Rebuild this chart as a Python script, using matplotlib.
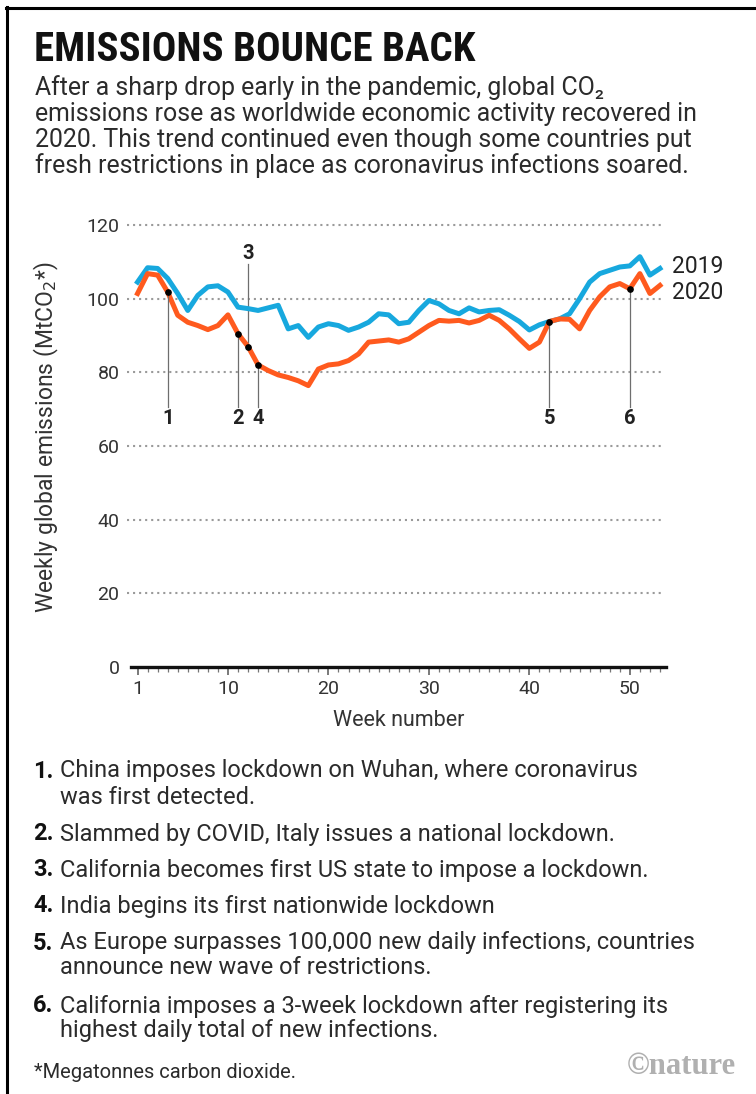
import matplotlib
matplotlib.use("Agg")
import matplotlib.pyplot as plt
import matplotlib.font_manager as fm
from matplotlib.lines import Line2D

# ---------------------------------------------------------------------------
# Data
# ---------------------------------------------------------------------------
weeks = list(range(1, 54))

emissions_2019 = [
    104.5, 108.4, 108.2, 105.5, 101.4, 96.8, 100.9, 103.2, 103.5, 101.8,
    97.7, 97.3, 96.8, 97.5, 98.2, 91.8, 92.7, 89.5, 92.3, 93.2,
    92.7, 91.4, 92.3, 93.6, 95.9, 95.6, 93.2, 93.6, 96.8, 99.5,
    98.6, 96.8, 95.9, 97.5, 96.4, 96.8, 97.0, 95.5, 93.8, 91.5,
    92.9, 93.8, 94.5, 95.9, 100.0, 104.5, 106.8, 107.7, 108.6, 108.9,
    111.4, 106.4, 108.2,
]

emissions_2020 = [
    101.4, 106.8, 106.4, 101.8, 95.5, 93.6, 92.7, 91.6, 92.7, 95.6,
    90.5, 87.0, 82.0, 80.5, 79.3, 78.6, 77.7, 76.4, 80.9, 82.0,
    82.3, 83.2, 85.0, 88.2, 88.5, 88.8, 88.2, 89.1, 90.9, 92.7,
    94.1, 93.9, 94.1, 93.4, 94.1, 95.5, 94.1, 91.8, 89.1, 86.5,
    88.2, 93.8, 94.5, 94.4, 91.8, 96.8, 100.5, 103.2, 104.1, 102.7,
    106.8, 101.4, 103.6,
]

event_weeks = [4, 11, 12, 13, 42, 50]
event_labels = ["1", "2", "3", "4", "5", "6"]
event_up = [False, False, True, False, False, False]

event_texts = [
    ["China imposes lockdown on Wuhan, where coronavirus", "was first detected."],
    ["Slammed by COVID, Italy issues a national lockdown."],
    ["California becomes first US state to impose a lockdown."],
    ["India begins its first nationwide lockdown"],
    ["As Europe surpasses 100,000 new daily infections, countries",
     "announce new wave of restrictions."],
    ["California imposes a 3-week lockdown after registering its",
     "highest daily total of new infections."],
]

y_ticks = [0, 20, 40, 60, 80, 100, 120]
x_major = [1, 10, 20, 30, 40, 50]

BLUE = "#17a8de"
ORANGE = "#ff5a1e"
TEXT = "#2b2b2b"

W, H = 756, 1094


def fx(px):
    return px / W


def fy(py):
    return 1 - py / H


def pick(cands, default="DejaVu Sans"):
    names = {f.name for f in fm.fontManager.ttflist}
    for c in cands:
        if c in names:
            return c
    return default


BODY = pick(["Roboto", "Liberation Sans", "Noto Sans"])
COND = pick(["Liberation Sans Narrow", "DejaVu Sans Condensed", "Roboto Condensed", "Roboto"])
plt.rcParams["font.family"] = [BODY, "DejaVu Sans"]

fig = plt.figure(figsize=(W / 100, H / 100), dpi=100, facecolor="white")
renderer = fig.canvas.get_renderer()


def fit(t, target_px):
    w = t.get_window_extent(renderer).width
    t.set_fontsize(t.get_fontsize() * target_px / w)
    return t.get_fontsize()


# frame (left + top)
fig.add_artist(Line2D([fx(6.5), fx(6.5)], [fy(7), 0], color="black", lw=2.2))
fig.add_artist(Line2D([fx(5.5), 1], [fy(7.5), fy(7.5)], color="black", lw=2.2))

# title + intro
title = fig.text(fx(34), fy(50), "EMISSIONS BOUNCE BACK", ha="left", va="center",
                 fontsize=30, weight="bold", color="#111", family=[COND, "DejaVu Sans"])
fit(title, 440)

intro = [
    "After a sharp drop early in the pandemic, global CO\u2082",
    "emissions rose as worldwide economic activity recovered in",
    "2020. This trend continued even though some countries put",
    "fresh restrictions in place as coronavirus infections soared.",
]
intro_y = [88, 114, 140, 166]
probe = fig.text(0, 0, intro[1], fontsize=14)
body_fs = fit(probe, 668)
probe.remove()
for line, yy in zip(intro, intro_y):
    fig.text(fx(35), fy(yy), line, ha="left", va="center", fontsize=body_fs, color=TEXT)

# ---------------------------------------------------------------------------
# Chart
# ---------------------------------------------------------------------------
ax = fig.add_axes([fx(130.5), fy(667), fx(666) - fx(130.5), fy(225) - fy(667)])
ax.set_xlim(0.3, 53.6)
ax.set_ylim(0, 120)

for v in y_ticks[1:]:
    ax.hlines(v, 0.0, 53.2, colors="#9a9a9a", lw=1.5, linestyles=(0, (1, 1.9)), clip_on=False)

ax.plot(weeks, emissions_2019, color=BLUE, lw=3.6, solid_joinstyle="round", zorder=3)
ax.plot(weeks, emissions_2020, color=ORANGE, lw=3.6, solid_joinstyle="round", zorder=4)

for wk, lab, up in zip(event_weeks, event_labels, event_up):
    v = emissions_2020[wk - 1]
    if up:
        ax.plot([wk, wk], [v, 109.5], color="#6e6e6e", lw=0.9, zorder=2, clip_on=False)
        ax.text(wk, 112.2, lab, ha="center", va="center", fontsize=14.5,
                weight="bold", color="#222")
    else:
        ax.plot([wk, wk], [v, 70.5], color="#6e6e6e", lw=0.9, zorder=5)
        ax.text(wk, 67.4, lab, ha="center", va="center", fontsize=14.5,
                weight="bold", color="#222")
    ax.plot(wk, v, "o", color="black", ms=3.8, zorder=6)

ax.text(54.2, 108.6, "2019", ha="left", va="center", fontsize=16.5, color="#222",
        clip_on=False)
ax.text(54.2, 101.6, "2020", ha="left", va="center", fontsize=16.5, color="#222",
        clip_on=False)

for s in ("top", "right", "left"):
    ax.spines[s].set_visible(False)
ax.spines["bottom"].set_linewidth(2.4)
ax.spines["bottom"].set_color("#111")

ax.set_yticks(y_ticks)
ax.set_yticklabels([str(v) for v in y_ticks])
ax.tick_params(axis="y", length=0, pad=8, labelsize=14, labelcolor="#333")

ax.set_xticks(x_major)
ax.set_xticklabels([str(v) for v in x_major])
ax.set_xticks(weeks, minor=True)
ax.tick_params(axis="x", which="major", direction="out", length=6, width=1.1,
               color="#555", labelsize=14, labelcolor="#333", pad=3)
ax.tick_params(axis="x", which="minor", direction="out", length=3.5, width=0.9,
               color="#777")
ax.set_xlabel("Week number", fontsize=15.5, color="#333", labelpad=9)

fig.text(fx(46), fy(437), "Weekly global emissions (MtCO$_2$*)", rotation=90,
         ha="center", va="center", fontsize=16.5, color="#333")

# ---------------------------------------------------------------------------
# Notes
# ---------------------------------------------------------------------------
note_y = [[771, 797], [834], [870], [906], [943, 968], [1006, 1031]]
probe = fig.text(0, 0, event_texts[4][0], fontsize=14)
note_fs = fit(probe, 640)
probe.remove()
for lab, lines, ys in zip(event_labels, event_texts, note_y):
    fig.text(fx(33), fy(ys[0]), lab + ".", ha="left", va="center", fontsize=note_fs,
             weight="bold", color="#111")
    for line, yy in zip(lines, ys):
        fig.text(fx(60), fy(yy), line, ha="left", va="center", fontsize=note_fs, color=TEXT)

fig.text(fx(34), fy(1073), "*Megatonnes carbon dioxide.", ha="left", va="center",
         fontsize=note_fs * 0.85, color=TEXT)
fig.text(fx(736), fy(1067), "\u00a9nature", ha="right", va="center", fontsize=22,
         weight="bold", color="#b0b0b0", family=["Liberation Serif", "DejaVu Serif"])

fig.savefig("out.png", dpi=100, facecolor="white")
